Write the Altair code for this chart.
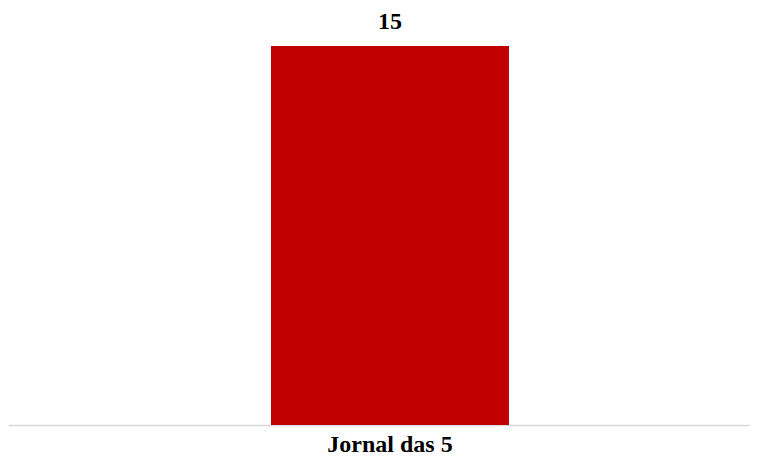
import altair as alt
import pandas as pd

categories = ["Jornal das 5"]
values = [15]

df = pd.DataFrame({"cat": categories, "val": values})

base = alt.Chart(df).encode(
    x=alt.X("cat:N", title=None,
            scale=alt.Scale(paddingInner=0.0556, paddingOuter=1, align=0.5218),
            axis=alt.Axis(labelAngle=0, ticks=False, domainColor="#d9d9d9", domainWidth=1.5,
                          labelFont="Liberation Serif", labelFontSize=24, labelFontWeight="bold",
                          labelColor="#000000", labelBaseline="top", labelPadding=7)),
    y=alt.Y("val:Q", title=None, scale=alt.Scale(domain=[0, 15], nice=False), axis=None),
)

bars = base.mark_bar(color="#C00000")
labels = base.mark_text(dy=-17, baseline="alphabetic", font="Liberation Serif",
                        fontSize=24, fontWeight="bold", color="#000000").encode(text="val:Q")

chart = (bars + labels).properties(
    width=742, height=379,
    autosize=alt.AutoSizeParams(type="none"),
    padding={"left": 0, "top": 38, "right": 0, "bottom": 30},
).configure(background="white").configure_view(stroke=None)

chart.save("out.html", embed_options={"renderer": "svg", "actions": False})
